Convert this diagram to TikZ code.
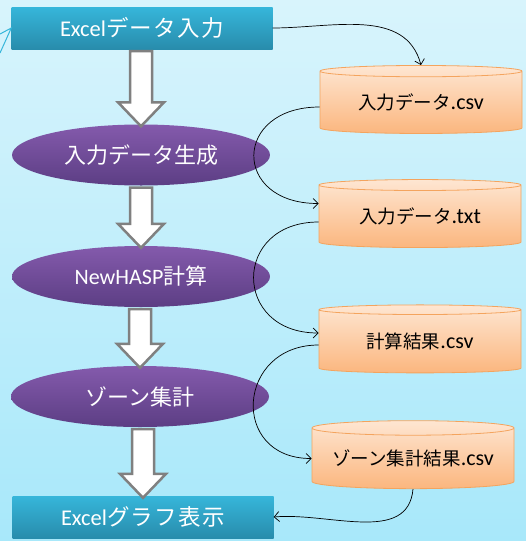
\documentclass[tikz,border=0pt]{standalone}
\usepackage{fontspec}
\setmainfont{Carlito}
\newfontfamily\jp{Noto Sans CJK JP}
\newfontfamily\jpwide{Noto Sans CJK JP}[LetterSpace=6]
\usetikzlibrary{shapes.geometric,calc,arrows.meta}
\definecolor{bgtop}{RGB}{216,244,252}
\definecolor{bgbot}{RGB}{168,232,250}
\definecolor{boxtop}{RGB}{54,182,218}
\definecolor{boxbot}{RGB}{40,140,172}
\definecolor{proctop}{RGB}{132,90,172}
\definecolor{procbot}{RGB}{92,62,132}
\definecolor{filetop}{RGB}{254,230,210}
\definecolor{filebot}{RGB}{251,182,126}
\definecolor{filedraw}{RGB}{244,164,94}
\definecolor{arrowgray}{RGB}{128,128,128}
\newcommand\fileext[1]{{\fontsize{22}{24}\selectfont #1}}
\newcommand\filelabel[1]{\raisebox{-4pt}{#1}}

\begin{document}
\begin{tikzpicture}[x=1pt,y=-1pt]
\tikzstyle{every node}+=[inner sep=0pt]
\tikzstyle{excelbox}=[rectangle, minimum width=261pt, minimum height=42pt, top color=boxtop, bottom color=boxbot, text=white, font=\fontsize{22.5}{26}\selectfont]
\tikzstyle{stepnode}=[ellipse, minimum width=258pt, minimum height=61pt, top color=proctop, bottom color=procbot, text=white, font=\fontsize{22}{26}\selectfont]
\tikzstyle{datafile}=[cylinder, shape border rotate=90, aspect=0.09, minimum width=202pt, minimum height=68pt, draw=filedraw, line width=0.8pt, top color=filetop, bottom color=filebot, font=\fontsize{18.5}{22}\selectfont]
\tikzstyle{flow}=[draw=arrowgray, line width=2.5pt, fill=white, line join=miter]
\tikzstyle{link}=[-{Straight Barb[length=5pt,width=10pt]}, line width=0.7pt]
\useasboundingbox (0,0) rectangle (526,541);
\fill[top color=bgtop, bottom color=bgbot] (0,0) rectangle (526,541);
\node[excelbox] (input) at (142,28) {Excel{\jpwide データ入力}};
\node[stepnode] (gen) at (141,155) {{\jp 入力データ生成}};
\node[stepnode] (hasp) at (141,276.5) {NewHASP{\jp 計算}};
\node[stepnode] (zone) at (140,396.5) {{\jp ゾーン集計}};
\node[excelbox] (graph) at (143,517) {Excel{\jpwide グラフ表示}};
\node[datafile] (csvin) at (421,102.5) {\filelabel{{\jp 入力データ}\fileext{.csv}}};
\node[datafile] (txtin) at (420,216.5) {\filelabel{{\jp 入力データ}\fileext{.txt}}};
\node[datafile] (calcres) at (420,341.5) {\filelabel{{\jp 計算結果}\fileext{.csv}}};
\node[datafile] (zoneres) at (413,458.5) {\filelabel{{\jp ゾーン集計結果}\fileext{.csv}}};
\coordinate (edgeA) at (0,34);
\coordinate (edgeB) at (0,53);
\draw[boxtop, line width=1pt] (edgeA) -- (input.west) -- (edgeB);
\foreach \a/\b in {input/gen, gen/hasp, hasp/zone, zone/graph}
  \draw[flow] ($(\a.south -| \b.north)+(-11,2)$) -- ($(\b.north)+(-11,-22)$) -- ($(\b.north)+(-23,-22)$) -- ($(\b.north)+(0,2)$) -- ($(\b.north)+(23,-22)$) -- ($(\b.north)+(11,-22)$) -- ($(\a.south -| \b.north)+(11,2)$) -- cycle;
\draw[link] (input.east) to[out=0,in=105] (csvin.north);
\draw[link] ([yshift=-4.5pt]csvin.west) to[out=180,in=180,looseness=2.3] ([yshift=13pt]txtin.west);
\draw[link] ([yshift=-5.5pt]txtin.west) to[out=180,in=180,looseness=2] ([yshift=8.5pt]calcres.west);
\draw[link] ([yshift=-3.5pt]calcres.west) to[out=180,in=180,looseness=1.85] (zoneres.west);
\draw[link] (zoneres.south) to[out=-95,in=5] (graph.east);
\end{tikzpicture}
\end{document}
